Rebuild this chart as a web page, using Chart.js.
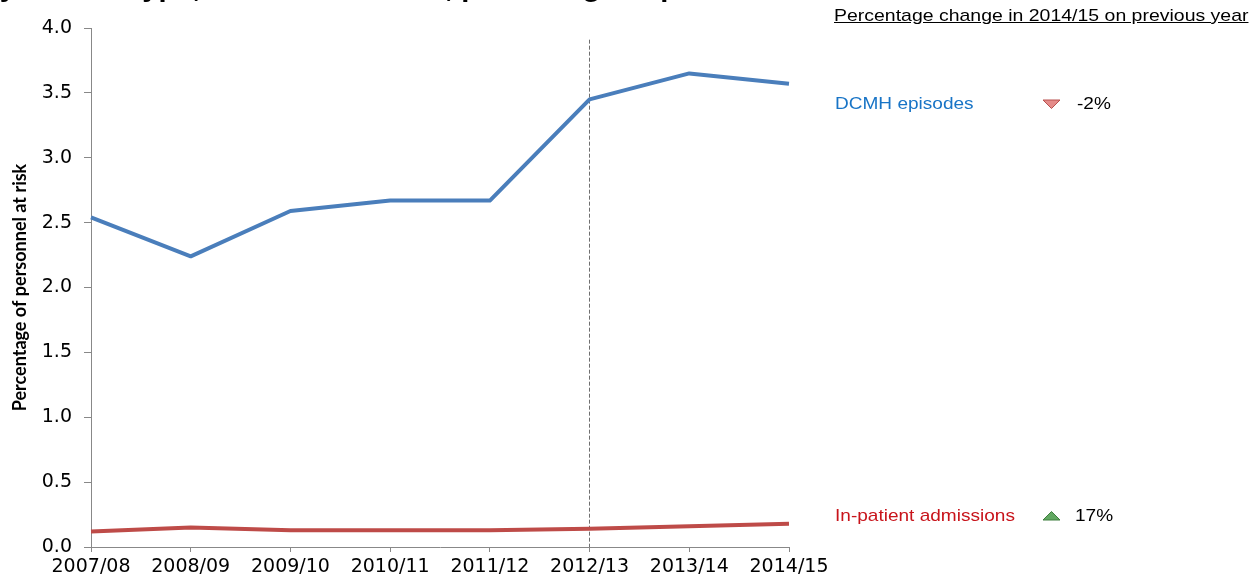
<!DOCTYPE html>
<html>
<head>
<meta charset="utf-8">
<script src="https://cdn.jsdelivr.net/npm/chart.js@4"></script>
<style>
html,body{margin:0;padding:0;background:#fff;overflow:hidden}
#wrap{position:relative;width:1256px;height:583px;overflow:hidden}
canvas{position:absolute;left:0;top:0}
.t{position:absolute;font-family:'Liberation Sans',Arial,sans-serif;font-size:17px;line-height:17px;white-space:nowrap;transform-origin:0 0;transform:scaleX(1.12);color:#000}
svg{position:absolute}
</style>
</head>
<body>
<div id="wrap">
<canvas id="c" width="1256" height="583"></canvas>
<div class="t" id="title" style="left:-18px;top:-25px;font-size:26px;line-height:26px;font-weight:bold;">by service type, 2007/08 - 2014/15, percentage of personnel at risk</div>
<div class="t" id="hdr" style="left:834px;top:7px;text-decoration:underline;transform:scaleX(1.145);">Percentage change in 2014/15 on previous year</div>
<div class="t" id="lab1" style="left:835px;top:95.3px;color:#1874C6;">DCMH episodes</div>
<svg style="left:1042px;top:99px" width="19" height="11"><polygon points="1,1 18,1 9.5,9.5" fill="#E58C8A" stroke="#B8504E" stroke-width="1"/></svg>
<div class="t" id="chg1" style="left:1077px;top:95.3px;">-2%</div>
<div class="t" id="lab2" style="left:835px;top:507.3px;color:#C8141B;">In-patient admissions</div>
<svg style="left:1042px;top:510px" width="19" height="11"><polygon points="1,10 18,10 9.5,1.5" fill="#62A862" stroke="#3E7E3E" stroke-width="1"/></svg>
<div class="t" id="chg2" style="left:1075px;top:507.3px;">17%</div>
</div>
<script>
// ---- data ----
const categories = ['2007/08','2008/09','2009/10','2010/11','2011/12','2012/13','2013/14','2014/15'];
const dcmhEpisodes = [2.54, 2.24, 2.59, 2.67, 2.67, 3.45, 3.65, 3.57];
const inpatientAdmissions = [0.12, 0.15, 0.13, 0.13, 0.13, 0.14, 0.16, 0.18];
const yMin = 0, yMax = 4, yStep = 0.5;
const markerCategory = '2012/13';
const markerTop = 3.91;
const yTitle = 'Percentage of personnel at risk';

const markerPlugin = {
  id: 'marker',
  beforeDatasetsDraw(chart) {
    const {ctx, scales: {x, y}} = chart;
    const px = Math.round(x.getPixelForValue(categories.indexOf(markerCategory))) - 0.5;
    const top = y.getPixelForValue(markerTop);
    const bottom = y.getPixelForValue(yMin);
    ctx.save();
    ctx.strokeStyle = '#6f6f6f';
    ctx.lineWidth = 1;
    ctx.setLineDash([4, 2]);
    ctx.beginPath();
    ctx.moveTo(px, top);
    ctx.lineTo(px, bottom);
    ctx.stroke();
    ctx.restore();
  }
};

const tickFont = {family: 'DejaVu Sans', size: 19};

new Chart(document.getElementById('c'), {
  type: 'line',
  data: {
    labels: categories,
    datasets: [
      {label: 'DCMH episodes', data: dcmhEpisodes, borderColor: '#4A7EBB', backgroundColor: '#4A7EBB',
       borderWidth: 4, pointRadius: 0, tension: 0, fill: false, borderJoinStyle: 'round'},
      {label: 'In-patient admissions', data: inpatientAdmissions, borderColor: '#BE4B48', backgroundColor: '#BE4B48',
       borderWidth: 4, pointRadius: 0, tension: 0, fill: false, borderJoinStyle: 'round'}
    ]
  },
  options: {
    responsive: false,
    animation: false,
    devicePixelRatio: 1,
    layout: {padding: {left: 0, top: 28, right: 467, bottom: 0}},
    plugins: {legend: {display: false}, tooltip: {enabled: false}, title: {display: false}},
    scales: {
      x: {
        type: 'category',
        offset: false,
        grid: {display: true, drawOnChartArea: false, drawTicks: true, tickLength: 5, color: '#888', tickColor: '#888'},
        border: {display: true, color: '#888', width: 1},
        ticks: {font: tickFont, color: '#000', maxRotation: 0, minRotation: 0, autoSkip: false, padding: 4},
        afterFit(s) { s.height = 36; }
      },
      y: {
        min: yMin, max: yMax,
        grid: {display: true, drawOnChartArea: false, drawTicks: true, tickLength: 7, color: '#888', tickColor: '#888'},
        border: {display: true, color: '#888', width: 1},
        ticks: {stepSize: yStep, font: tickFont, color: '#000', padding: 12, callback: v => Number(v).toFixed(1)},
        title: {display: true, text: yTitle, color: '#000', font: {family: 'Lato', size: 18, weight: 'bold'}, padding: {top: 9, bottom: 0}},
        afterFit(s) { s.width = 91; }
      }
    }
  },
  plugins: [markerPlugin]
});
</script>
</body>
</html>
